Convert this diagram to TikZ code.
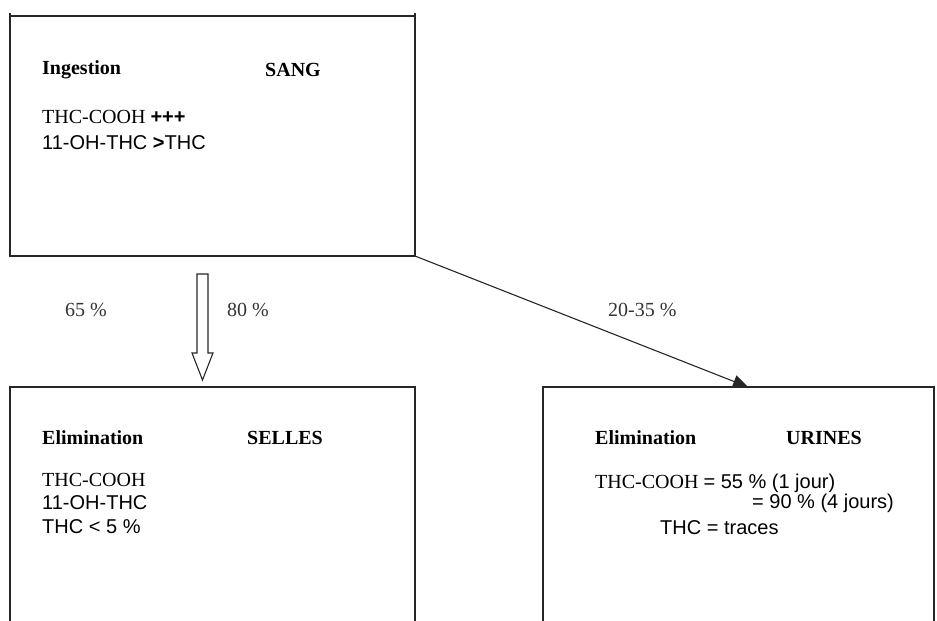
\documentclass[tikz,border=0pt]{standalone}
\usepackage{fontspec}
\setmainfont{Liberation Serif}
\newfontfamily\arial{Liberation Sans}
\usetikzlibrary{arrows.meta}
\tikzset{
  box/.style={draw=black!85, line width=1.1pt},
  txt/.style={anchor=west, inner sep=0pt, font=\fontsize{20}{24}\selectfont},
  hdr/.style={txt, font=\fontsize{20}{24}\selectfont\bfseries},
  pct/.style={txt, text=black!80},
  conn/.style={draw=black!85, line width=1.1pt}
}
\begin{document}
\begin{tikzpicture}[x=1pt,y=-1pt]
\useasboundingbox (0,0) rectangle (937,621);
% top box (SANG)
\coordinate (sangTL) at (10,16);
\coordinate (sangBR) at (415,256);
\draw[box] (sangTL) rectangle (sangBR);
\draw[box] (10,13) -- (10,16) (415,13) -- (415,16);
\node[hdr] (ing) at (42,70) {Ingestion};
\node[hdr] (sang) at (265,70) {SANG};
\node[txt] (s1) at (42,117) {THC-COOH {\arial\bfseries +++}};
\node[txt] (s2) at (42,143) {\arial 11-OH-THC {\bfseries >}THC};
% bottom-left box (SELLES)
\draw[box] (10,621) -- (10,387) -- (415,387) -- (415,621);
\coordinate (sellesTop) at (202.5,387);
\node[hdr] (elim1) at (42,438) {Elimination};
\node[hdr] (selles) at (247,438) {SELLES};
\node[txt] (f1) at (42,480) {THC-COOH};
\node[txt] (f2) at (42,503) {\arial 11-OH-THC};
\node[txt] (f3) at (42,527) {\arial THC < 5 \%};
% bottom-right box (URINES)
\draw[box] (543,621) -- (543,387) -- (934,387) -- (934,621);
\coordinate (urinesTop) at (748,387);
\node[hdr] (elim2) at (595,438) {Elimination};
\node[hdr] (urines) at (786,438) {URINES};
\node[txt] (u1) at (595,483) {THC-COOH {\arial = 55 \% (1 jour)}};
\node[txt] (u2) at (752,503) {\arial = 90 \% (4 jours)};
\node[txt] (u3) at (660,528) {\arial THC = traces};
% hollow arrow to SELLES
\draw[conn, fill=white] (197,274) -- (208,274) -- (208,353) -- (213,353) -- (sellesTop |- 0,380) -- (192,353) -- (197,353) -- cycle;
\node[pct] (p65) at (65,310) {65 \%};
\node[pct] (p80) at (227,310) {80 \%};
% arrow to URINES
\draw[conn, -{Triangle[length=15pt,width=13pt]}] (sangBR) -- (urinesTop);
\node[pct] (p2035) at (608,310) {20-35 \%};
\end{tikzpicture}
\end{document}
